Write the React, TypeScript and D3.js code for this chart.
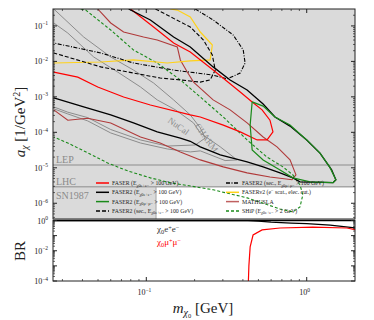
import React from 'react';
import * as d3 from 'd3';

type P = [number, number];

// exclusion contours, [m_chi0 (GeV), a_chi (1/GeV^2)]
const nucal: P[] = [[0.0265, 0.3], [0.0407, 0.0487], [0.06, 0.0133], [0.0832, 0.0057], [0.111, 0.00246], [0.148, 8.2e-4], [0.188, 3.1e-4], [0.217, 1.33e-4], [0.233, 6.9e-5], [0.202, 4.4e-5], [0.135, 4.1e-5], [0.092, 6.1e-5], [0.06, 1.2e-4], [0.0431, 2.6e-4], [0.0324, 3.7e-4], [0.0265, 5.2e-4]];
const charm: P[] = [[0.0265, 0.121], [0.0324, 0.063], [0.047, 0.0133], [0.0663, 0.005], [0.092, 0.0019], [0.117, 8.2e-4], [0.152, 4.3e-4], [0.197, 1.84e-4], [0.217, 9.6e-5], [0.289, 3.9e-5], [0.368, 1.67e-5], [0.31, 1.6e-5], [0.217, 3.0e-5], [0.188, 2.8e-5], [0.135, 3.4e-5], [0.092, 5.0e-5], [0.06, 9.6e-5], [0.0431, 2.1e-4], [0.0324, 3.3e-4], [0.0265, 4.6e-4]];
const ship: P[] = [[0.039, 0.3], [0.0419, 0.28], [0.06, 0.0767], [0.0832, 0.021], [0.117, 0.009], [0.163, 0.003], [0.217, 9.9e-4], [0.302, 2.7e-4], [0.425, 6.1e-5], [0.566, 2.0e-5], [0.711, 1.06e-5], [0.82, 6.3e-6], [0.908, 3.3e-6], [0.946, 1.73e-6], [0.908, 7.9e-7], [0.82, 5.7e-7], [0.682, 6.9e-7], [0.425, 1.42e-6], [0.261, 2.4e-6], [0.141, 3.8e-6], [0.106, 5.2e-6], [0.0764, 8.2e-6], [0.0574, 1.37e-5], [0.0407, 3.0e-5], [0.0324, 5.0e-5], [0.0265, 7.4e-5]];
const fasernu2: P[] = [[0.141, 0.3], [0.156, 0.28], [0.188, 0.178], [0.217, 0.0673], [0.258, 0.029], [0.25, 0.011], [0.188, 0.0103], [0.135, 0.009], [0.0832, 0.011], [0.052, 0.0096], [0.0265, 0.009]];
const faser2SecMu: P[] = [[0.202, 0.3], [0.261, 0.147], [0.348, 0.0554], [0.402, 0.021], [0.413, 0.009], [0.385, 0.0047], [0.319, 0.0032], [0.261, 0.0041], [0.208, 0.0047], [0.148, 0.0057], [0.0832, 0.009], [0.052, 0.0173], [0.0265, 0.033]];
const faser2SecE: P[] = [[0.114, 0.3], [0.188, 0.093], [0.227, 0.0401], [0.258, 0.0151], [0.269, 0.0057], [0.25, 0.003], [0.217, 0.0026], [0.163, 0.003], [0.122, 0.0034], [0.0832, 0.0047], [0.052, 0.007], [0.0265, 0.0173]];
const faser2E: P[] = [[0.0776, 0.3], [0.106, 0.147], [0.148, 0.0487], [0.188, 0.0255], [0.261, 0.007], [0.333, 0.003], [0.425, 0.00156], [0.535, 6.3e-4], [0.634, 2.7e-4], [0.787, 1.5e-4], [1.0, 6.1e-5], [1.21, 2.6e-5], [1.43, 8.7e-6], [1.52, 4.6e-6], [1.46, 3.8e-6], [0.908, 4.0e-6], [0.82, 5.2e-6], [0.682, 7.2e-6], [0.535, 1.06e-5], [0.425, 1.47e-5], [0.289, 2.3e-5], [0.217, 3.9e-5], [0.188, 5.6e-5], [0.163, 6.9e-5], [0.117, 1.03e-4], [0.0832, 1.84e-4], [0.06, 3.1e-4], [0.0407, 5.2e-4], [0.0265, 9.3e-4]];
const faser2Mu: P[] = [[0.457, 7.2e-4], [0.535, 5.5e-4], [0.634, 2.7e-4], [0.787, 1.6e-4], [1.0, 6.1e-5], [1.21, 2.6e-5], [1.39, 1.06e-5], [1.52, 4.6e-6], [1.46, 3.8e-6], [1.05, 4.0e-6], [0.82, 5.2e-6], [0.682, 8.7e-6], [0.535, 1.67e-5], [0.457, 3.2e-5], [0.444, 1.6e-4], [0.457, 7.2e-4]];
const faser: P[] = [[0.0798, 0.3], [0.111, 0.093], [0.148, 0.033], [0.188, 0.0184], [0.261, 0.0057], [0.385, 0.00137], [0.457, 7.2e-4], [0.527, 4.3e-4], [0.59, 2.2e-4], [0.616, 1.03e-4], [0.566, 6.1e-5], [0.491, 6.1e-5], [0.385, 1.03e-4], [0.302, 1.6e-4], [0.217, 2.7e-4], [0.188, 3.1e-4], [0.106, 5.9e-4], [0.0722, 9.9e-4], [0.0498, 0.0019], [0.0374, 0.0036], [0.0265, 0.005]];
const mathusla: P[] = [[0.0498, 0.3], [0.06, 0.121], [0.0722, 0.0673], [0.0961, 0.0487], [0.117, 0.0401], [0.156, 0.0255], [0.163, 0.011], [0.18, 0.005], [0.197, 0.0026], [0.261, 8.2e-4], [0.333, 4.3e-4], [0.425, 1.84e-4], [0.535, 7.4e-5], [0.653, 3.9e-5], [0.787, 1.67e-5], [0.857, 6.3e-6], [0.809, 4.6e-6], [0.59, 5.5e-6], [0.425, 7.2e-6], [0.302, 1.06e-5], [0.217, 1.67e-5], [0.163, 2.8e-5], [0.122, 5.0e-5], [0.092, 7.4e-5], [0.06, 1.84e-4], [0.0431, 2.5e-4], [0.0324, 2.2e-4], [0.0265, 4.3e-4]];

const lepLimit = 1.2e-5;
const lhcLimit = 2.9e-6;
const sn1987Edge = 0.115;

// branching ratios
const brEE: P[] = [[0.0265, 0.96], [0.43, 0.96], [0.5, 0.9], [0.6, 0.78], [0.8, 0.68], [1.0, 0.62], [1.4, 0.5], [2.0, 0.33]];
const brMuMu: P[] = [[0.432, 5e-5], [0.436, 1e-3], [0.444, 0.018], [0.463, 0.11], [0.527, 0.24], [0.682, 0.32], [1.09, 0.36], [1.78, 0.32], [2.0, 0.25]];

const topTicks = [1e-6, 1e-5, 1e-4, 1e-3, 1e-2, 1e-1];
const brTicks = [1e-4, 1e-3, 1e-2, 1e-1, 1];
const brLabels = [1e-4, 1e-2, 1];
const xTicks = [0.1, 1];

const legendCol1 = [
  { pre: 'FASER (E', sub: 'χ0e+e−', post: ' > 100 GeV)', color: 'red', dash: '' },
  { pre: 'FASER2 (E', sub: 'χ0e+e−', post: ' > 100 GeV)', color: 'black', dash: '' },
  { pre: 'FASER2 (E', sub: 'χ0μ+μ−', post: ' > 100 GeV)', color: '#1a8a1a', dash: '' },
  { pre: 'FASER2 (sec., E', sub: 'χ0e+e−', post: ' > 100 GeV)', color: 'black', dash: '4,2' },
];
const legendCol2 = [
  { pre: 'FASER2 (sec., E', sub: 'χ0μ+μ−', post: ' > 100 GeV)', color: 'black', dash: '4,1.5,1,1.5' },
  { pre: 'FASERν2 (e', sup: '−', post: ' scat., elec. cut.)', color: '#ffd21a', dash: '' },
  { pre: 'MATHUSLA', post: '', color: '#c06060', dash: '' },
  { pre: 'SHiP (E', sub: 'χ0e+e−', post: ' > 2 GeV)', color: '#1a8a1a', dash: '3,2' },
];

const L = 53, R = 355, T = 9, B1 = 219, T2 = 220.5, B2 = 281;
const x = d3.scaleLog().domain([0.0262, 2]).range([L, R]);
const y = d3.scaleLog().domain([3.6e-7, 0.3]).range([B1, T]);
const yb = d3.scaleLog().domain([1e-4, 1]).range([B2, T2]);

const line = d3.line<P>().x(d => x(d[0])).y(d => y(d[1]));
const lineB = d3.line<P>().x(d => x(d[0])).y(d => yb(d[1]));
const closed = d3.line<P>().x(d => x(d[0])).y(d => y(d[1])).curve(d3.curveLinearClosed);

const font = '"Liberation Serif", "DejaVu Serif", serif';

function minors(lo: number, hi: number) {
  const out: number[] = [];
  for (let e = Math.floor(Math.log10(lo)); e <= Math.ceil(Math.log10(hi)); e++) {
    for (let k = 2; k <= 9; k++) {
      const v = k * Math.pow(10, e);
      if (v > lo && v < hi) out.push(v);
    }
  }
  return out;
}

function Pow({ v, px, py }: { v: number; px: number; py: number }) {
  const e = Math.round(Math.log10(v));
  return (
    <text x={px} y={py} fontSize={8} textAnchor="end" fontFamily={font} fill="#222">
      10<tspan dy={-3.5} fontSize={5.5}>{e < 0 ? '−' + -e : e}</tspan>
    </text>
  );
}

function Chi({ s }: { s: string }) {
  // chi0 with subscript 0 and superscript charges
  const out: JSX.Element[] = [];
  let shift = 0;
  s.split('').forEach((c, i) => {
    let target = 0;
    if (c === '0') target = 1.5;
    else if (c === '+' || c === '−') target = -2.5;
    const dy = target - shift;
    shift = target;
    out.push(<tspan key={i} dy={dy} fontSize={target === 0 ? undefined : '70%'}>{c}</tspan>);
  });
  return <>{out}</>;
}

function LegendRow({ item, lx, ly }: { item: any; lx: number; ly: number }) {
  return (
    <g>
      <line x1={lx} x2={lx + 13} y1={ly - 2} y2={ly - 2} stroke={item.color} strokeWidth={1.5} strokeDasharray={item.dash} />
      <text x={lx + 16} y={ly} fontSize={5.8} fontFamily={font} fill="#222">
        {item.pre}
        {item.sub && <tspan dy={1.5} fontSize={4.3}>{item.sub}</tspan>}
        {item.sup && <tspan dy={-2} fontSize={4.3}>{item.sup}</tspan>}
        <tspan dy={item.sub ? -1.5 : item.sup ? 2 : 0}>{item.post}</tspan>
      </text>
    </g>
  );
}

export default function App() {
  const xMin = minors(0.0262, 2);
  const yMin = minors(3.6e-7, 0.3);
  const bMin = minors(1e-4, 1);
  return (
    <svg width={374} height={320} style={{ display: 'block', position: 'absolute', left: 0, top: 0 }}>
      <rect width={374} height={320} fill="white" />
      <defs>
        <clipPath id="top"><rect x={L} y={T} width={R - L} height={B1 - T} /></clipPath>
        <clipPath id="bot"><rect x={L} y={T2} width={R - L} height={B2 - T2} /></clipPath>
      </defs>

      <g clipPath="url(#top)">
        <rect x={L} y={T} width={R - L} height={y(lhcLimit) - T} fill="#dadada" />
        <rect x={L} y={y(lhcLimit)} width={x(sn1987Edge) - L} height={B1 - y(lhcLimit)} fill="#dadada" />
        <line x1={L} x2={R} y1={y(lepLimit)} y2={y(lepLimit)} stroke="#a6a6a6" strokeWidth={1.5} />
        <line x1={L} x2={R} y1={y(lhcLimit)} y2={y(lhcLimit)} stroke="#a6a6a6" strokeWidth={1.5} />
        <line x1={x(sn1987Edge)} x2={x(sn1987Edge)} y1={y(lhcLimit)} y2={B1} stroke="#a6a6a6" strokeWidth={1} />
        <text x={56} y={y(lepLimit) - 2} fontSize={10} fontFamily={font} fill="#8a8a8a">LEP</text>
        <text x={56} y={y(lhcLimit) - 2} fontSize={10} fontFamily={font} fill="#8a8a8a">LHC</text>
        <text x={56} y={y(lhcLimit) + 12} fontSize={10} fontFamily={font} fill="#8a8a8a">SN1987</text>

        <path d={closed(nucal) || ''} fill="none" stroke="#8c8c8c" strokeWidth={1} />
        <path d={closed(charm) || ''} fill="none" stroke="#8c8c8c" strokeWidth={1} />
        <text transform={`translate(${x(0.135)},${y(2.0e-4)}) rotate(36)`} fontSize={9} fontFamily={font} fill="#8c8c8c">NuCal</text>
        <text transform={`translate(${x(0.2)},${y(1.5e-4)}) rotate(55)`} fontSize={9} fontFamily={font} fill="#8c8c8c">CHARM</text>

        <path d={line(mathusla) || ''} fill="none" stroke="#b03a3a" strokeWidth={1.1} />
        <path d={line(ship) || ''} fill="none" stroke="#1a8a1a" strokeWidth={1.1} strokeDasharray="3,2" />
        <path d={line(fasernu2) || ''} fill="none" stroke="#ffd21a" strokeWidth={1.2} />
        <path d={line(faser2SecE) || ''} fill="none" stroke="black" strokeWidth={1.1} strokeDasharray="4,2" />
        <path d={line(faser2SecMu) || ''} fill="none" stroke="black" strokeWidth={1.1} strokeDasharray="4,1.5,1,1.5" />
        <path d={line(faser) || ''} fill="none" stroke="red" strokeWidth={1.2} />
        <path d={line(faser2E) || ''} fill="none" stroke="black" strokeWidth={1.3} />
        <path d={line(faser2Mu) || ''} fill="none" stroke="#1a8a1a" strokeWidth={1.2} />
      </g>

      {legendCol1.map((it, i) => <LegendRow key={'a' + i} item={it} lx={96} ly={185 + i * 9.3} />)}
      {legendCol2.map((it, i) => <LegendRow key={'b' + i} item={it} lx={226} ly={185 + i * 9.3} />)}

      <g clipPath="url(#bot)">
        <path d={lineB(brEE) || ''} fill="none" stroke="black" strokeWidth={1.2} />
        <path d={lineB(brMuMu) || ''} fill="none" stroke="red" strokeWidth={1.2} />
      </g>
      <text x={157} y={232} fontSize={9} fontFamily={font} fill="#333"><Chi s="χ0e+e−" /></text>
      <text x={157} y={245} fontSize={9} fontFamily={font} fill="red"><Chi s="χ0μ+μ−" /></text>

      {/* frames */}
      <rect x={L} y={T} width={R - L} height={B1 - T} fill="none" stroke="#222" strokeWidth={1} />
      <rect x={L} y={T2} width={R - L} height={B2 - T2} fill="none" stroke="#222" strokeWidth={1} />
      <line x1={L} x2={R} y1={T2} y2={T2} stroke="black" strokeWidth={1.6} />

      {/* y ticks, top panel */}
      {topTicks.map(v => (
        <g key={'ty' + v}>
          <line x1={L} x2={L + 4} y1={y(v)} y2={y(v)} stroke="#222" />
          <line x1={R} x2={R - 4} y1={y(v)} y2={y(v)} stroke="#222" />
          <Pow v={v} px={48} py={y(v) + 3} />
        </g>
      ))}
      {yMin.map(v => (
        <g key={'tym' + v}>
          <line x1={L} x2={L + 2} y1={y(v)} y2={y(v)} stroke="#222" strokeWidth={0.7} />
          <line x1={R} x2={R - 2} y1={y(v)} y2={y(v)} stroke="#222" strokeWidth={0.7} />
        </g>
      ))}
      {/* y ticks, BR panel */}
      {brTicks.map(v => (
        <g key={'by' + v}>
          <line x1={L} x2={L + 4} y1={yb(v)} y2={yb(v)} stroke="#222" />
          <line x1={R} x2={R - 4} y1={yb(v)} y2={yb(v)} stroke="#222" />
        </g>
      ))}
      {bMin.map(v => (
        <g key={'bym' + v}>
          <line x1={L} x2={L + 2} y1={yb(v)} y2={yb(v)} stroke="#222" strokeWidth={0.7} />
          <line x1={R} x2={R - 2} y1={yb(v)} y2={yb(v)} stroke="#222" strokeWidth={0.7} />
        </g>
      ))}
      {brLabels.map(v => <Pow key={'bl' + v} v={v} px={48} py={yb(v) + 3} />)}

      {/* x ticks */}
      {xTicks.map(v => (
        <g key={'x' + v}>
          <line x1={x(v)} x2={x(v)} y1={B2} y2={B2 - 4} stroke="#222" />
          <line x1={x(v)} x2={x(v)} y1={T} y2={T + 4} stroke="#222" />
          <text x={x(v) - 2} y={295} fontSize={8} textAnchor="middle" fontFamily={font} fill="#222">
            10<tspan dy={-3.5} fontSize={5.5}>{v < 1 ? '−1' : '0'}</tspan>
          </text>
        </g>
      ))}
      {xMin.map(v => (
        <g key={'xm' + v}>
          <line x1={x(v)} x2={x(v)} y1={B2} y2={B2 - 2} stroke="#222" strokeWidth={0.7} />
          <line x1={x(v)} x2={x(v)} y1={T} y2={T + 2} stroke="#222" strokeWidth={0.7} />
        </g>
      ))}

      {/* axis titles */}
      <text transform="translate(25,122) rotate(-90)" fontSize={15} textAnchor="middle" fontFamily={font} fill="#222">
        <tspan fontStyle="italic">a</tspan><tspan dy={3} fontSize={10} fontStyle="italic">χ</tspan>
        <tspan dy={-3}> [1/GeV</tspan><tspan dy={-5} fontSize={10}>2</tspan><tspan dy={5}>]</tspan>
      </text>
      <text transform="translate(25,251) rotate(-90)" fontSize={15} textAnchor="middle" fontFamily={font} fill="#222">BR</text>
      <text x={203} y={313} fontSize={15} textAnchor="middle" fontFamily={font} fill="#222">
        <tspan fontStyle="italic">m</tspan><tspan dy={3} fontSize={10} fontStyle="italic">χ</tspan><tspan dy={2} fontSize={6.5}>0</tspan>
        <tspan dy={-5}> [GeV]</tspan>
      </text>
    </svg>
  );
}
